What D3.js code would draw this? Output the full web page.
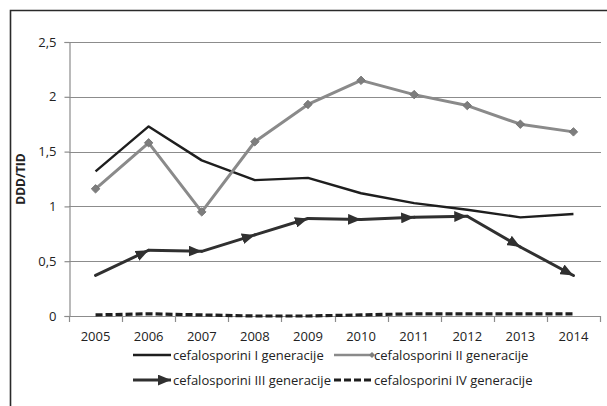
<!DOCTYPE html>
<html>
<head>
<meta charset="utf-8">
<script src="https://cdn.jsdelivr.net/npm/d3@7"></script>
<style>
  html, body { margin: 0; padding: 0; background: #fff; }
  svg { display: block; }
  text { font-family: "Open Sans", sans-serif; fill: #222; }
</style>
</head>
<body>
<svg id="chart" width="607" height="406"></svg>
<script>
// Years on the horizontal axis
const years = ["2005", "2006", "2007", "2008", "2009", "2010", "2011", "2012", "2013", "2014"];
// DDD/TID per cephalosporin generation
const gen1 = [1.32, 1.73, 1.42, 1.24, 1.26, 1.12, 1.03, 0.97, 0.90, 0.93];
const gen2 = [1.16, 1.58, 0.95, 1.59, 1.93, 2.15, 2.02, 1.92, 1.75, 1.68];
const gen3 = [0.37, 0.60, 0.59, 0.74, 0.89, 0.88, 0.90, 0.91, 0.63, 0.37];
const gen4 = [0.01, 0.02, 0.01, 0.00, 0.00, 0.01, 0.02, 0.02, 0.02, 0.02];
const yTicks = [0, 0.5, 1, 1.5, 2, 2.5];
const seriesNames = [
  "cefalosporini I generacije",
  "cefalosporini II generacije",
  "cefalosporini III generacije",
  "cefalosporini IV generacije"
];

const svg = d3.select("#chart");
const plotLeft = 69, plotRight = 600, plotTop = 42, plotBottom = 316;

const x = d3.scaleBand().domain(years).range([plotLeft, plotRight]).padding(0);
const y = d3.scaleLinear().domain([0, 2.5]).range([plotBottom, plotTop]);
const cx = d => x(d) + x.bandwidth() / 2;
const fmt = v => String(v).replace(".", ",");

// outer frame
svg.append("path")
  .attr("d", `M10.5,406 V10.5 H607`)
  .attr("fill", "none").attr("stroke", "#2a2a2a").attr("stroke-width", 1.6);

// horizontal gridlines
svg.append("g").selectAll("line").data(yTicks.filter(v => v > 0)).join("line")
  .attr("x1", plotLeft).attr("x2", plotRight + 1)
  .attr("y1", d => Math.round(y(d)) + 0.5).attr("y2", d => Math.round(y(d)) + 0.5)
  .attr("stroke", "#8c8c8c").attr("stroke-width", 1.2);

// y axis
const yAxis = svg.append("g").attr("transform", `translate(${plotLeft + 0.5},0)`)
  .call(d3.axisLeft(y).tickValues(yTicks).tickSize(5).tickPadding(8).tickFormat(fmt));
yAxis.select(".domain").attr("stroke", "#8c8c8c").attr("stroke-width", 1.2);
yAxis.selectAll(".tick line").attr("stroke", "#8c8c8c").attr("stroke-width", 1.2);
yAxis.selectAll("text").style("font-size", "13px").attr("fill", "#222")
  .style("font-family", "'Open Sans', sans-serif");

// x axis line and category boundary ticks
const xg = svg.append("g");
xg.append("line").attr("x1", plotLeft).attr("x2", plotRight + 1)
  .attr("y1", plotBottom + 0.5).attr("y2", plotBottom + 0.5)
  .attr("stroke", "#8c8c8c").attr("stroke-width", 1.2);
const bounds = years.map(d => x(d)).concat([x(years[years.length - 1]) + x.bandwidth()]);
xg.selectAll("line.tk").data(bounds).join("line").attr("class", "tk")
  .attr("x1", d => Math.round(d) + 0.5).attr("x2", d => Math.round(d) + 0.5)
  .attr("y1", plotBottom).attr("y2", plotBottom + 6)
  .attr("stroke", "#8c8c8c").attr("stroke-width", 1.2);
xg.selectAll("text").data(years).join("text")
  .attr("x", d => cx(d)).attr("y", 341)
  .attr("text-anchor", "middle").style("font-size", "13px").text(d => d);

// y axis title
svg.append("text")
  .attr("transform", `translate(24.5,${(plotTop + plotBottom) / 2}) rotate(-90)`)
  .attr("text-anchor", "middle")
  .style("font-size", "12px").style("font-weight", "bold")
  .text("DDD/TID");

// arrow marker for the third generation series
const defs = svg.append("defs");
defs.append("marker")
  .attr("id", "arrow").attr("markerUnits", "userSpaceOnUse")
  .attr("viewBox", "0 0 12 10").attr("refX", 12).attr("refY", 5)
  .attr("markerWidth", 13).attr("markerHeight", 11).attr("orient", "auto")
  .append("path").attr("d", "M0,0 L12,5 L0,10 Z").attr("fill", "#303030");

const line = d3.line().x((d, i) => cx(years[i])).y(d => y(d));

// IV generation (dashed)
svg.append("path").datum(gen4).attr("d", line)
  .attr("fill", "none").attr("stroke", "#1e1e1e").attr("stroke-width", 3.2)
  .attr("stroke-dasharray", "7,3");

// I generation
svg.append("path").datum(gen1).attr("d", line)
  .attr("fill", "none").attr("stroke", "#1e1e1e").attr("stroke-width", 2.4)
  .attr("stroke-linejoin", "round");

// II generation with diamond markers (squares turned 45 degrees)
svg.append("path").datum(gen2).attr("d", line)
  .attr("fill", "none").attr("stroke", "#8a8a8a").attr("stroke-width", 3)
  .attr("stroke-linejoin", "round");
svg.append("g").selectAll("path").data(gen2).join("path")
  .attr("transform", (d, i) => `translate(${cx(years[i])},${y(d)}) rotate(45)`)
  .attr("d", d3.symbol(d3.symbolSquare, 36))
  .attr("fill", "#7d7d7d").attr("stroke", "#6e6e6e").attr("stroke-width", 0.8);

// III generation: each segment ends with an arrowhead
const segs = d3.pairs(gen3.map((v, i) => [cx(years[i]), y(v)]));
svg.append("g").selectAll("line").data(segs).join("line")
  .attr("x1", d => d[0][0]).attr("y1", d => d[0][1])
  .attr("x2", d => d[1][0]).attr("y2", d => d[1][1])
  .attr("stroke", "#303030").attr("stroke-width", 3)
  .attr("stroke-linecap", "round")
  .attr("marker-end", "url(#arrow)");

// legend
const lg = svg.append("g").style("font-size", "13px");
const entries = [
  { x: 133, y: 355, name: seriesNames[0], kind: "plain" },
  { x: 334, y: 355, name: seriesNames[1], kind: "diamond" },
  { x: 133, y: 380, name: seriesNames[2], kind: "arrow" },
  { x: 334, y: 380, name: seriesNames[3], kind: "dash" }
];
entries.forEach(e => {
  const g = lg.append("g");
  const x2 = e.x + 38;
  if (e.kind === "plain") {
    g.append("line").attr("x1", e.x).attr("x2", x2).attr("y1", e.y).attr("y2", e.y)
      .attr("stroke", "#1e1e1e").attr("stroke-width", 2.4);
  } else if (e.kind === "diamond") {
    g.append("line").attr("x1", e.x).attr("x2", x2).attr("y1", e.y).attr("y2", e.y)
      .attr("stroke", "#8a8a8a").attr("stroke-width", 2.4);
    g.append("path").attr("transform", `translate(${x2},${e.y}) rotate(45)`)
      .attr("d", d3.symbol(d3.symbolSquare, 18)).attr("fill", "#7d7d7d");
  } else if (e.kind === "arrow") {
    g.append("line").attr("x1", e.x).attr("x2", x2).attr("y1", e.y).attr("y2", e.y)
      .attr("stroke", "#303030").attr("stroke-width", 3).attr("marker-end", "url(#arrow)");
  } else {
    g.append("line").attr("x1", e.x).attr("x2", x2).attr("y1", e.y).attr("y2", e.y)
      .attr("stroke", "#1e1e1e").attr("stroke-width", 3.2).attr("stroke-dasharray", "7,3");
  }
  g.append("text").attr("x", x2 + 2).attr("y", e.y + 4.5).text(e.name);
});
</script>
</body>
</html>
